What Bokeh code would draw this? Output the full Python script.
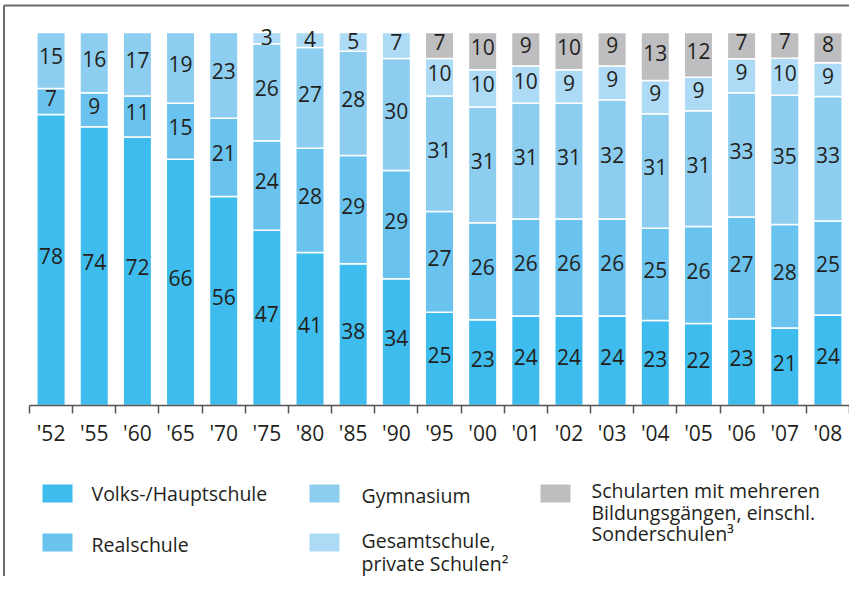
from bokeh.plotting import figure
from bokeh.models import (ColumnDataSource, Range1d, LinearAxis, FixedTicker)
from bokeh.core.properties import value
from bokeh.embed import file_html
from bokeh.resources import INLINE

# ---------------- data ----------------
years = ["'52", "'55", "'60", "'65", "'70", "'75", "'80", "'85", "'90", "'95",
         "'00", "'01", "'02", "'03", "'04", "'05", "'06", "'07", "'08"]
volks = [78, 74, 72, 66, 56, 47, 41, 38, 34, 25, 23, 24, 24, 24, 23, 22, 23, 21, 24]
real = [7, 9, 11, 15, 21, 24, 28, 29, 29, 27, 26, 26, 26, 26, 25, 26, 27, 28, 25]
gym = [15, 16, 17, 19, 23, 26, 27, 28, 30, 31, 31, 31, 31, 32, 31, 31, 33, 35, 33]
gesamt = [0, 0, 0, 0, 0, 3, 4, 5, 7, 10, 10, 10, 9, 9, 9, 9, 9, 10, 9]
mehrere = [0, 0, 0, 0, 0, 0, 0, 0, 0, 7, 10, 9, 10, 9, 13, 12, 7, 7, 8]

series_names = ["Volks-/Hauptschule", "Realschule", "Gymnasium",
                "Gesamtschule,\nprivate Schulen²",
                "Schularten mit mehreren\nBildungsgängen, einschl.\nSonderschulen³"]
series = [volks, real, gym, gesamt, mehrere]
colors = ["#3ebced", "#69c3ee", "#8dcef0", "#addaf4", "#bebec0"]

# ---------------- layout constants ----------------
W, H = 849, 576
OFF = 0                      # picture origin of the canvas
AX_L, AX_R = 29, 849         # axis extent in picture px
BASE_Y, TOP_Y = 405, 32      # y=0 and y=100 in picture px
CAT_PX = (AX_R - AX_L) / len(years)
PCT_PX = (BASE_Y - TOP_Y) / 100.0

def px_x(px):
    return (px - AX_L) / CAT_PX

def px_y(px):
    return (BASE_Y - px) / PCT_PX

FONT = "Open Sans"
TXT = "#231f20"

p = figure(width=W, height=H, output_backend="svg", toolbar_location=None,
           x_axis_type=None, y_axis_type=None, title=None,
           x_range=Range1d(px_x(OFF), px_x(OFF + W)),
           y_range=Range1d(px_y(OFF + H), px_y(OFF)),
           min_border=0, min_border_left=0, min_border_right=0,
           min_border_top=0, min_border_bottom=0)
p.outline_line_color = None
p.xgrid.visible = False
p.ygrid.visible = False
p.background_fill_color = "white"
p.border_fill_color = "white"

# ---------------- frame lines (left and top) ----------------
p.segment(x0=[px_x(3.5), px_x(3.5)], y0=[px_y(5), px_y(5)],
          x1=[px_x(3.5), px_x(W)], y1=[px_y(H), px_y(5)],
          line_color="#6a6a6a", line_width=2)

# ---------------- stacked bars (normalised to 100) ----------------
totals = [sum(s[i] for s in series) for i in range(len(years))]
bottoms = [0.0] * len(years)
lab_x, lab_y, lab_t, lab_dy = [], [], [], []
for vals, col in zip(series, colors):
    xs, bs, ts = [], [], []
    for i, v in enumerate(vals):
        if v <= 0:
            continue
        h = v / totals[i] * 100.0
        xs.append(i + 0.5)
        bs.append(bottoms[i])
        ts.append(bottoms[i] + h)
        lab_x.append(i + 0.5)
        lab_y.append(bottoms[i] + h / 2)
        lab_t.append(str(v))
        lab_dy.append(-4 if v >= 6 else -1)
        bottoms[i] += h
    src = ColumnDataSource(dict(x=xs, bottom=bs, top=ts))
    p.vbar(x="x", bottom="bottom", top="top", width=0.66, source=src,
           fill_color=col, line_color="white", line_width=1.5)

lab_src = ColumnDataSource(dict(x=lab_x, y=lab_y, text=lab_t, dy=lab_dy))
p.text(x="x", y="y", text="text", y_offset="dy", source=lab_src,
       text_font=value(FONT), text_font_size="21px", text_color=TXT,
       text_align="center", text_baseline="middle")

# ---------------- x axis: minor ticks at boundaries, labels at centres ----------------
centres = [i + 0.5 for i in range(len(years))]
bounds_ticks = list(range(len(years) + 1))
xaxis = LinearAxis(fixed_location=0,
                   ticker=FixedTicker(ticks=centres, minor_ticks=bounds_ticks),
                   major_label_overrides={c: y for c, y in zip(centres, years)},
                   bounds=(0, len(years)))
xaxis.axis_line_color = "#555555"
xaxis.axis_line_width = 1.5
xaxis.major_tick_line_color = None
xaxis.major_tick_out = 0
xaxis.major_tick_in = 0
xaxis.minor_tick_line_color = "#555555"
xaxis.minor_tick_line_width = 1.5
xaxis.minor_tick_out = 8
xaxis.minor_tick_in = 0
xaxis.major_label_standoff = 5
xaxis.major_label_text_font = FONT
xaxis.major_label_text_font_size = "21px"
xaxis.major_label_text_color = TXT
p.add_layout(xaxis, "below")

# ---------------- legend (manual, 3 columns) ----------------
sw_x = [57, 57, 324, 324, 555]
sw_y = [493, 542, 493, 542, 493]
p.rect(x=[px_x(v) for v in sw_x], y=[px_y(v) for v in sw_y],
       width=30, height=18, width_units="screen", height_units="screen",
       fill_color=colors, line_color=None)

tx_x = [91, 91, 361, 361, 591]
tx_y = [493, 544, 495, 540, 490]
lx, ly, lt = [], [], []
for name, x0, y0 in zip(series_names, tx_x, tx_y):
    step = 22.5 if "Gesamt" in name else 21.5
    for k, line in enumerate(name.split("\n")):
        lx.append(px_x(x0))
        ly.append(px_y(y0 + k * step))
        lt.append(line)
p.text(x=lx, y=ly, text=lt, text_font=value(FONT), text_font_size="19.5px",
       text_color=TXT, text_align="left", text_baseline="middle")

open("out.html", "w").write(file_html(p, INLINE))
